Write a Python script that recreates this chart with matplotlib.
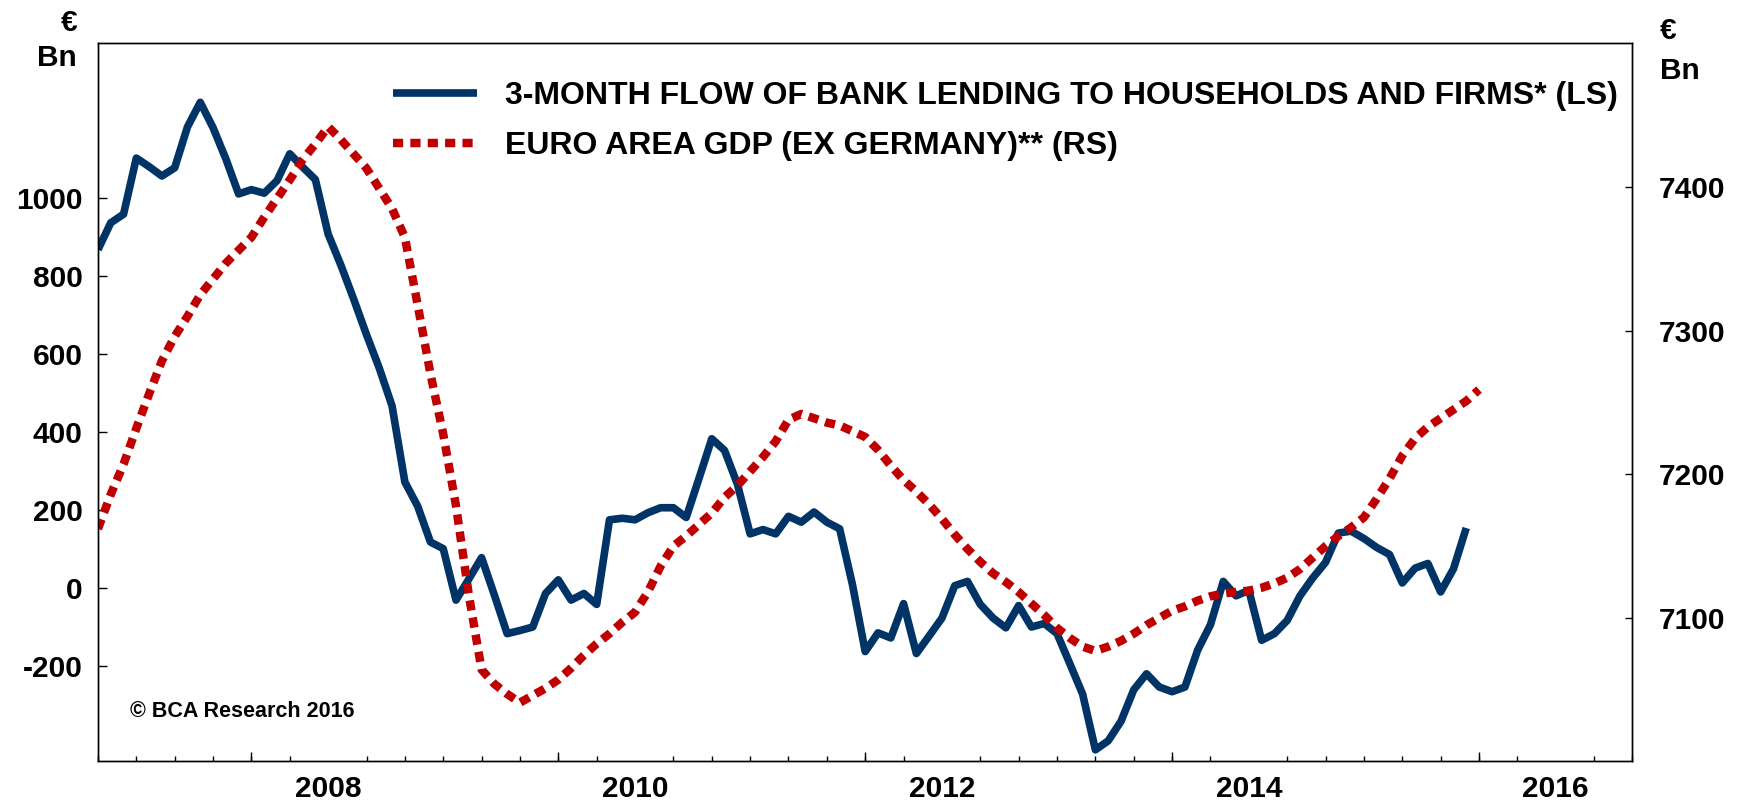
import numpy as np
import matplotlib
matplotlib.use('Agg')
import matplotlib.pyplot as plt
from matplotlib.lines import Line2D

plt.rcParams['font.family'] = ['Liberation Sans', 'DejaVu Sans']
plt.rcParams['font.weight'] = 'bold'
plt.rcParams['axes.unicode_minus'] = False

# 3-month flow of bank lending, monthly Jan 2007 - Dec 2015 (EUR bn, left scale)
lending = [867, 936, 958, 1102, 1080, 1056, 1077, 1182, 1245, 1180, 1100, 1010,
           1021, 1012, 1044, 1113, 1079, 1047, 907, 827, 740, 649, 563, 466,
           271, 209, 117, 100, -32, 22, 77, -19, -118, -110, -101, -15,
           20, -32, -15, -43, 174, 178, 174, 192, 205, 205, 180, 280,
           382, 352, 266, 138, 149, 138, 183, 168, 194, 168, 151, 8,
           -164, -116, -129, -41, -169, -124, -78, 5, 16, -43, -78, -103,
           -46, -101, -92, -118, -195, -273, -416, -393, -343, -262, -221, -255,
           -267, -255, -160, -95, 16, -21, -7, -135, -118, -84, -21, 25,
           65, 140, 145, 126, 103, 85, 12, 50, 62, -11, 48, 153]

# euro area GDP ex Germany, monthly Jan 2007 - Jan 2016 (EUR bn, right scale)
gdp = [7162, 7186, 7207, 7232, 7256, 7279, 7296, 7310, 7325, 7336, 7347, 7356,
       7365, 7379, 7392, 7405, 7419, 7430, 7442, 7433, 7423, 7413, 7399, 7385,
       7365, 7318, 7270, 7228, 7178, 7116, 7064, 7054, 7047, 7041, 7046, 7051,
       7057, 7065, 7074, 7082, 7089, 7097, 7104, 7118, 7136, 7150, 7157, 7165,
       7173, 7184, 7192, 7202, 7212, 7223, 7238, 7242, 7239, 7236, 7234, 7230,
       7226, 7217, 7206, 7196, 7188, 7179, 7169, 7158, 7148, 7139, 7131, 7125,
       7118, 7110, 7102, 7093, 7086, 7080, 7077, 7080, 7084, 7089, 7095, 7100,
       7105, 7108, 7112, 7115, 7117, 7118, 7119, 7121, 7124, 7128, 7134, 7142,
       7150, 7157, 7163, 7170, 7183, 7197, 7213, 7225, 7233, 7239, 7245, 7251,
       7259]

left_ticks = [-200, 0, 200, 400, 600, 800, 1000]
right_ticks = [7100, 7200, 7300, 7400]
year_labels = [2008, 2010, 2012, 2014, 2016]

label_blue = '3-MONTH FLOW OF BANK LENDING TO HOUSEHOLDS AND FIRMS* (LS)'
label_red = 'EURO AREA GDP (EX GERMANY)** (RS)'

blue = '#003466'
red = '#C00000'

lending_x = 2007 + np.arange(len(lending)) / 12
gdp_x = 2007 + np.arange(len(gdp)) / 12

fig = plt.figure(figsize=(17.4, 8.02), dpi=100)
ax = fig.add_axes([0.0563, 0.0505, 0.8819, 0.8953])
ax2 = ax.twinx()

ax.plot(lending_x, lending, color=blue, lw=5.5, solid_joinstyle='round',
        solid_capstyle='butt')
ax2.plot(gdp_x, gdp, color=red, lw=6.1, linestyle=(0, (1.2, 0.85)),
         dash_capstyle='butt')

ax.set_xlim(2007, 2017)
ax.set_ylim(-446, 1396)
ax2.set_ylim(7000, 7500)

# year labels sit mid-year, tall ticks every two years, quarterly minor ticks
ax.set_xticks([y + 0.5 for y in year_labels], [str(y) for y in year_labels])
ax.set_xticks(np.arange(2007, 2017.01, 0.25), minor=True)
ax.tick_params(axis='x', which='major', length=0, pad=9.5, labelsize=21.5)
ax.tick_params(axis='x', which='minor', direction='in', length=3.3, width=1)
sec = ax.secondary_xaxis('bottom')
sec.set_xticks(np.arange(2008, 2017, 2))
sec.tick_params(direction='in', length=6.8, width=1, labelbottom=False)
sec.spines['bottom'].set_visible(False)

ax.set_yticks(left_ticks)
ax.tick_params(axis='y', direction='in', length=6.5, width=1, pad=11,
               labelsize=21.5)
ax2.set_yticks(right_ticks)
ax2.tick_params(axis='y', direction='in', length=5, width=1, pad=19,
                labelsize=21.5)

for a in (ax, ax2):
    for s in a.spines.values():
        s.set_linewidth(1)

handles = [Line2D([], [], color=blue, lw=5.5, solid_capstyle='butt'),
           Line2D([], [], color=red, lw=6.1, linestyle=(0, (1.2, 0.85)),
                  dash_capstyle='butt')]
ax2.legend(handles, [label_blue, label_red], loc='upper left',
           bbox_to_anchor=(393 / 1740, 0.899), bbox_transform=fig.transFigure,
           frameon=False, fontsize=23, handlelength=2.63, handletextpad=0.88,
           labelspacing=0.62, borderpad=0, borderaxespad=0)

fig.text(77 / 1740, 0.971, '€', ha='right', va='center', fontsize=21.5)
fig.text(77 / 1740, 0.9273, 'Bn', ha='right', va='center', fontsize=21.5)
fig.text(1660 / 1740, 0.9613, '€', ha='left', va='center', fontsize=21.5)
fig.text(1660 / 1740, 0.911, 'Bn', ha='left', va='center', fontsize=21.5)
fig.text(130 / 1740, 1 - 711.8 / 802, '© BCA Research 2016', ha='left',
         va='center', fontsize=15.5)

fig.savefig('out.png', dpi=100)
